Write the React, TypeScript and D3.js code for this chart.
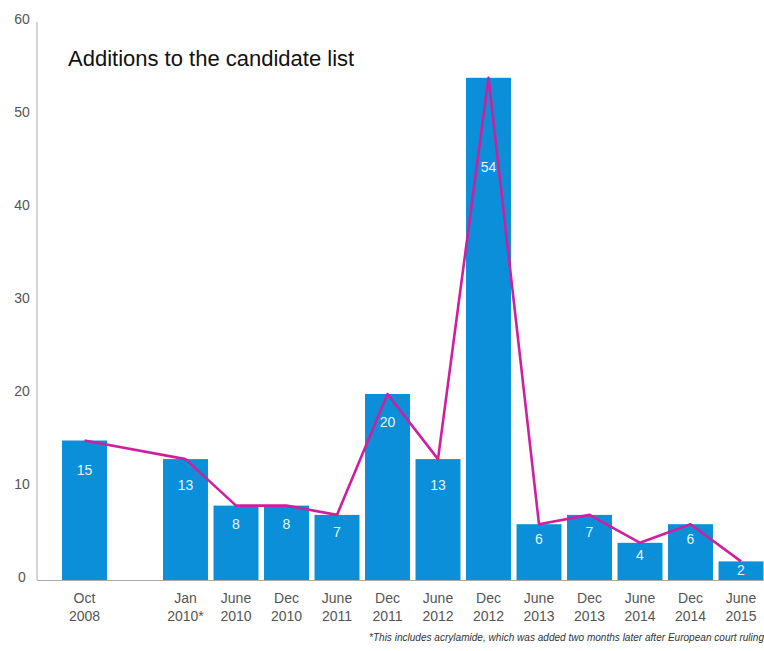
import React from "react";
import * as d3 from "d3";

const categories = ["Oct 2008", "", "Jan 2010*", "June 2010", "Dec 2010", "June 2011", "Dec 2011", "June 2012", "Dec 2012", "June 2013", "Dec 2013", "June 2014", "Dec 2014", "June 2015"];
const values: (number | null)[] = [15, null, 13, 8, 8, 7, 20, 13, 54, 6, 7, 4, 6, 2];
const yTicks = [0, 10, 20, 30, 40, 50, 60];
const title = "Additions to the candidate list";
const footnote = "*This includes acrylamide, which was added two months later after European court ruling";

const W = 764;
const H = 651;
const BLUE = "#0a8fd8";
const MAGENTA = "#cf1f9f";
const FONT = "'Liberation Sans', Arial, Helvetica, sans-serif";

export default function App() {
  const x = d3
    .scaleBand<string>()
    .domain(categories.map((c, i) => `${i}`))
    .range([59.25, 766.25])
    .paddingInner(0.11)
    .paddingOuter(0.055);
  const y = d3.scaleLinear().domain([0, 60]).range([580, 22]);

  const pts = values
    .map((v, i) => ({ v, i }))
    .filter((d) => d.v !== null) as { v: number; i: number }[];

  const line = d3
    .line<{ v: number; i: number }>()
    .x((d) => (x(`${d.i}`) as number) + x.bandwidth() / 2)
    .y((d) => y(d.v));

  return (
    <svg
      width={W}
      height={H}
      style={{ position: "absolute", left: 0, top: 0, background: "#fff" }}
      fontFamily={FONT}
    >
      {/* axes */}
      <line x1={37} x2={37} y1={22} y2={580} stroke="#aaa" strokeWidth={1} />
      <line x1={37} x2={W} y1={580.5} y2={580.5} stroke="#aaa" strokeWidth={1} />
      {yTicks.map((t) => (
        <text
          key={t}
          x={22}
          y={y(t) - 3}
          textAnchor="middle"
          dominantBaseline="central"
          fontSize={14}
          fill="#555"
        >
          {t}
        </text>
      ))}

      {/* title */}
      <text x={68} y={66} fontSize={22} fill="#111">
        {title}
      </text>

      {/* bars */}
      {pts.map((d) => {
        const bx = x(`${d.i}`) as number;
        const top = y(d.v);
        const h = y(0) - top;
        return (
          <rect key={`b${d.i}`} x={bx} y={top} width={x.bandwidth()} height={h} fill={BLUE} />
        );
      })}

      {/* line */}
      <path d={line(pts) || ""} fill="none" stroke={MAGENTA} strokeWidth={2.6} strokeLinejoin="round" />

      {/* bar labels */}
      {pts.map((d) => {
        const cx = (x(`${d.i}`) as number) + x.bandwidth() / 2;
        const top = y(d.v);
        const h = y(0) - top;
        const off = d.v === 20 ? 28 : 6 + h * 0.165;
        return (
          <text
            key={`l${d.i}`}
            x={cx}
            y={top + off}
            textAnchor="middle"
            dominantBaseline="central"
            fontSize={14}
            fill="#e8f4ff"
          >
            {d.v}
          </text>
        );
      })}

      {/* x labels */}
      {categories.map((c, i) => {
        if (!c) return null;
        const cx = (x(`${i}`) as number) + x.bandwidth() / 2;
        const parts = c.split(" ");
        return (
          <text key={`x${i}`} x={cx} textAnchor="middle" fontSize={14} fill="#555">
            <tspan x={cx} y={603}>
              {parts[0]}
            </tspan>
            <tspan x={cx} y={621}>
              {parts[1]}
            </tspan>
          </text>
        );
      })}

      {/* footnote */}
      <text
        x={369}
        y={641}
        fontSize={10}
        fontStyle="italic"
        fill="#333"
        textLength={395}
        lengthAdjust="spacingAndGlyphs"
      >
        {footnote}
      </text>
    </svg>
  );
}
